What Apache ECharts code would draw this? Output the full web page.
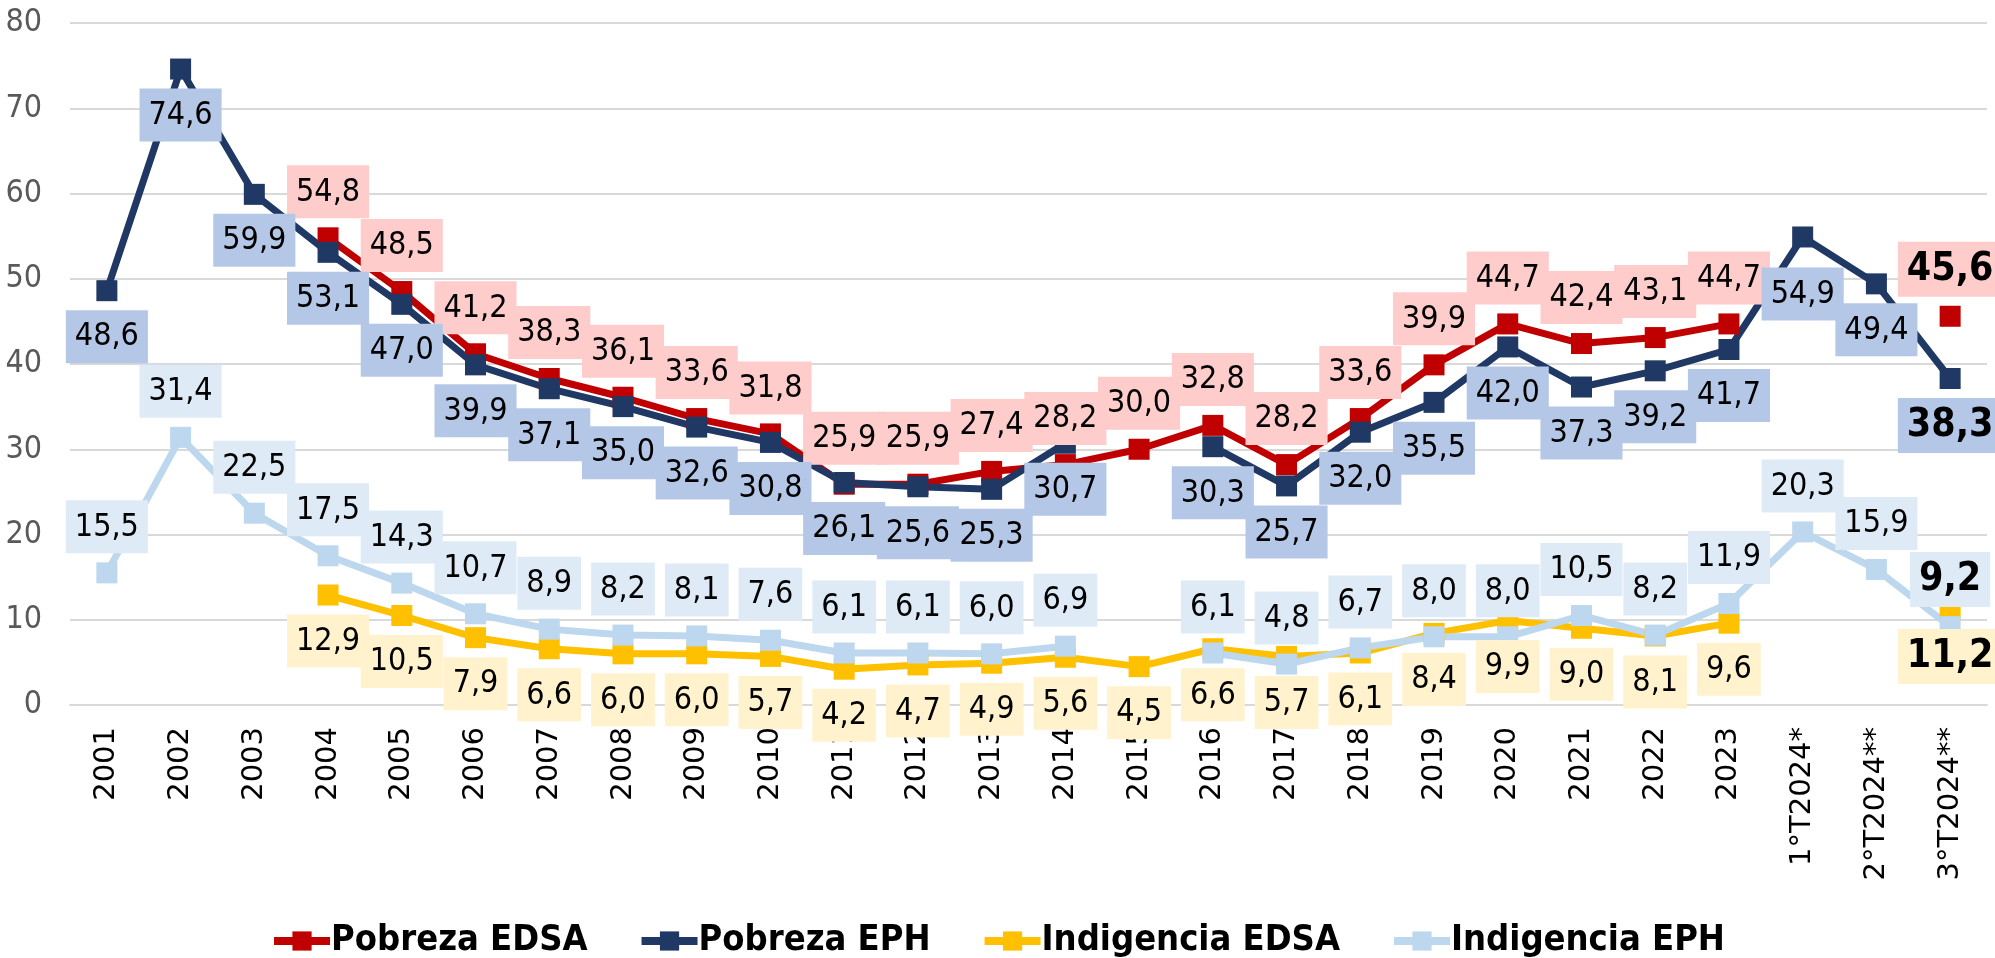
<!DOCTYPE html>
<html>
<head>
<meta charset="utf-8">
<title>Pobreza e indigencia</title>
<script src="https://cdn.jsdelivr.net/npm/echarts/dist/echarts.min.js"></script>
<style>
  html, body { margin: 0; padding: 0; background: #fff; }
  #main { width: 1995px; height: 958px; }
</style>
</head>
<body>
<div id="main"></div>
<script>
// categorías del eje X
var categories = ['2001', '2002', '2003', '2004', '2005', '2006', '2007', '2008', '2009', '2010',
  '2011', '2012', '2013', '2014', '2015', '2016', '2017', '2018', '2019', '2020',
  '2021', '2022', '2023', '1°T2024*', '2°T2024**', '3°T2024**'];

var yTicks = [0, 10, 20, 30, 40, 50, 60, 70, 80];

var pobrezaEDSA = [null, null, null, 54.8, 48.5, 41.2, 38.3, 36.1, 33.6, 31.8,
  25.9, 25.9, 27.4, 28.2, 30.0, 32.8, 28.2, 33.6, 39.9, 44.7,
  42.4, 43.1, 44.7, null, null, 45.6];

var pobrezaEPH = [48.6, 74.6, 59.9, 53.1, 47.0, 39.9, 37.1, 35.0, 32.6, 30.8,
  26.1, 25.6, 25.3, 30.7, null, 30.3, 25.7, 32.0, 35.5, 42.0,
  37.3, 39.2, 41.7, 54.9, 49.4, 38.3];

var indigenciaEDSA = [null, null, null, 12.9, 10.5, 7.9, 6.6, 6.0, 6.0, 5.7,
  4.2, 4.7, 4.9, 5.6, 4.5, 6.6, 5.7, 6.1, 8.4, 9.9,
  9.0, 8.1, 9.6, null, null, 11.2];

var indigenciaEPH = [15.5, 31.4, 22.5, 17.5, 14.3, 10.7, 8.9, 8.2, 8.1, 7.6,
  6.1, 6.1, 6.0, 6.9, null, 6.1, 4.8, 6.7, 8.0, 8.0,
  10.5, 8.2, 11.9, 20.3, 15.9, 9.2];

var NARROW = "'Liberation Sans Narrow', 'DejaVu Sans Condensed', 'Noto Sans', sans-serif";

function fmt(v) {
  return v.toFixed(1).replace('.', ',');
}

// el último punto va en negrita y más grande; algunos rótulos van más separados
function buildData(arr, farLabels) {
  var last = arr.length - 1;
  return arr.map(function (v, i) {
    if (v == null) return v;
    if (i === last) {
      return { value: v, label: { fontWeight: 'bold', fontSize: 39, padding: [9, 9, 8, 9] } };
    }
    if (farLabels && farLabels.indexOf(i) >= 0) {
      return { value: v, label: { distance: 20 } };
    }
    return v;
  });
}

function makeSeries(name, arr, color, bg, pos, farLabels) {
  return {
    name: name,
    type: 'line',
    data: buildData(arr, farLabels),
    connectNulls: false,
    symbol: 'rect',
    symbolSize: 21,
    itemStyle: { color: color },
    lineStyle: { color: color, width: 7 },
    label: {
      show: true,
      position: pos,
      distance: 9,
      formatter: function (p) { return fmt(p.value); },
      fontFamily: NARROW,
      fontSize: 32,
      lineHeight: 38,
      color: '#000',
      backgroundColor: bg,
      padding: [8, 9, 7, 9]
    },
    emphasis: { disabled: true },
    animation: false
  };
}

var myChart = echarts.init(document.getElementById('main'));

var option = {
  animation: false,
  grid: { left: 70, right: 8, top: 23, bottom: 253 },
  legend: {
    bottom: -6,
    left: 'center',
    itemWidth: 56,
    itemHeight: 24,
    itemGap: 50,
    lineStyle: { width: 8 },
    textStyle: { fontFamily: NARROW, fontWeight: 'bold', fontSize: 36, color: '#000', padding: [0, 0, 0, -4] },
    data: ['Pobreza EDSA', 'Pobreza EPH', 'Indigencia EDSA', 'Indigencia EPH']
  },
  xAxis: {
    type: 'category',
    data: categories,
    boundaryGap: true,
    axisLine: { lineStyle: { color: '#d9d9d9', width: 2 } },
    axisTick: { show: false },
    axisLabel: {
      rotate: 90,
      interval: 0,
      margin: 22,
      fontFamily: "'DejaVu Sans', sans-serif",
      fontSize: 29,
      color: '#000'
    }
  },
  yAxis: {
    type: 'value',
    min: yTicks[0],
    max: yTicks[yTicks.length - 1],
    interval: 10,
    axisLine: { show: false },
    axisTick: { show: false },
    splitLine: { lineStyle: { color: '#d9d9d9', width: 2 } },
    axisLabel: {
      fontFamily: NARROW,
      fontSize: 32,
      color: '#595959',
      margin: 28
    }
  },
  series: [
    makeSeries('Pobreza EDSA', pobrezaEDSA, '#C00000', '#FFCCCC', 'top'),
    makeSeries('Pobreza EPH', pobrezaEPH, '#203864', '#B4C7E7', 'bottom', [23]),
    makeSeries('Indigencia EDSA', indigenciaEDSA, '#FFC000', '#FFF2CC', 'bottom'),
    makeSeries('Indigencia EPH', indigenciaEPH, '#BDD7EE', '#DEEBF7', 'top')
  ]
};

myChart.setOption(option);
</script>
</body>
</html>
